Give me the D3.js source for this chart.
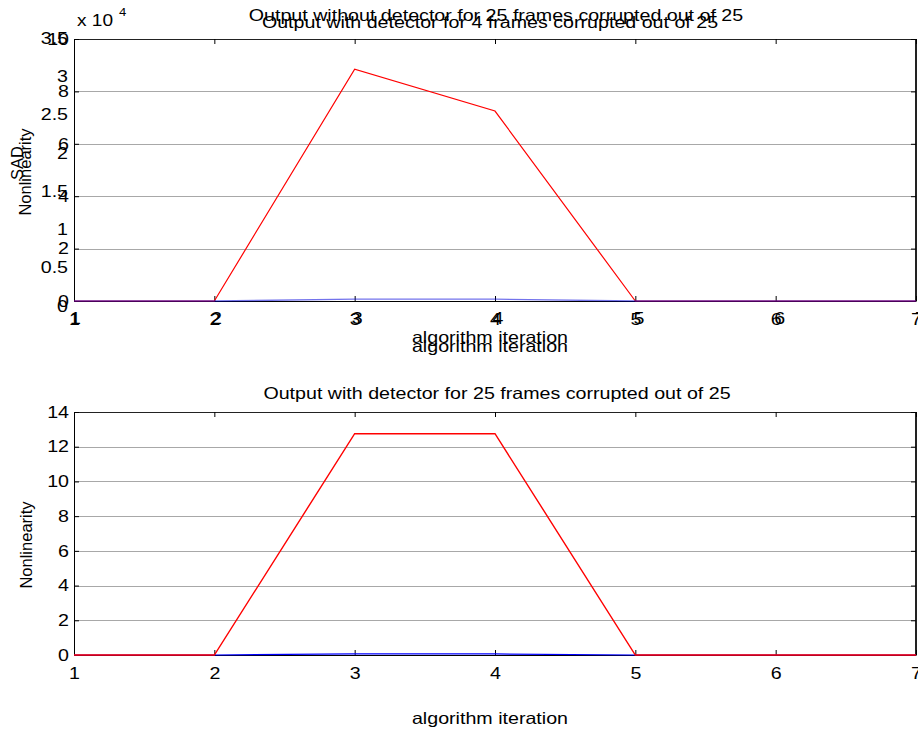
<!DOCTYPE html>
<html>
<head>
<meta charset="utf-8">
<script src="https://cdn.jsdelivr.net/npm/d3@7"></script>
<style>
  html, body { margin: 0; padding: 0; background: #fff; }
  svg { display: block; font-family: "Liberation Sans", Arial, sans-serif; }
</style>
</head>
<body>
<svg id="fig" width="918" height="733"></svg>
<script>
// Iterations of the algorithm (shared x values)
const iterations = [1, 2, 3, 4, 5, 6, 7];
const xTicks = [1, 2, 3, 4, 5, 6, 7];

// Upper panel: SAD axis (scaled by 10^4) and the nonlinearity axis laid over it
const sadTicks = [0, 0.5, 1, 1.5, 2, 2.5, 3, 3.5];
const nlTopTicks = [0, 2, 4, 6, 8, 10];
const topRed = [0, 0, 8.85, 7.25, 0, 0, 0];
const topBlue = [0, 0, 0.07, 0.07, 0, 0, 0];

// Lower panel: nonlinearity with detector, 25 of 25 frames corrupted
const nlBottomTicks = [0, 2, 4, 6, 8, 10, 12, 14];
const bottomRed = [0, 0, 12.75, 12.75, 0, 0, 0];
const bottomBlue = [0, 0, 0.06, 0.06, 0, 0, 0];

const svg = d3.select("#fig");
const FS = 16.5;      // font size
const SX = 1.19;      // horizontal stretch of the exported figure

// stretch horizontal text to the figure's wider glyphs
function stretch(sel) {
  sel.each(function () {
    const w = this.getComputedTextLength();
    if (w > 0) {
      d3.select(this).attr("textLength", w * SX).attr("lengthAdjust", "spacingAndGlyphs");
    }
  });
}

function label(x, y, txt, anchor, size) {
  const t = svg.append("text")
    .attr("x", x).attr("y", y)
    .attr("text-anchor", anchor || "middle")
    .attr("font-size", size || FS)
    .attr("fill", "#000")
    .text(txt);
  stretch(t);
  return t;
}

function ylabel(x, y, txt) {
  svg.append("text")
    .attr("transform", `translate(${x},${y}) rotate(-90)`)
    .attr("text-anchor", "middle")
    .attr("font-size", FS)
    .attr("fill", "#000")
    .text(txt);
}

const L = 74, R = 916;
const x = d3.scaleLinear().domain([1, 7]).range([L, R]);

// ---------- Upper panel, underlying SAD axes (only its labels show) ----------
const xSad = d3.scaleLinear().domain([1, 7]).range([L + 1, R + 4]);
const ySad = d3.scaleLinear().domain([0, 3.5]).range([306, 38]);

const sadY = svg.append("g").attr("transform", `translate(${L},0)`)
  .call(d3.axisLeft(ySad).tickValues(sadTicks).tickSize(0).tickPadding(6)
    .tickFormat(d3.format("")));
sadY.select(".domain").remove();
sadY.selectAll("text").attr("font-size", FS).attr("font-family", null).attr("fill", "#000");
stretch(sadY.selectAll("text"));

const sadX = svg.append("g").attr("transform", `translate(0,299)`)
  .call(d3.axisBottom(xSad).tickValues(xTicks).tickSize(0).tickPadding(13)
    .tickFormat(d3.format("d")));
sadX.select(".domain").remove();
sadX.selectAll("text").attr("font-size", FS).attr("font-family", null).attr("fill", "#000");
stretch(sadX.selectAll("text"));

label(496, 21, "Output without detector for 25 frames corrupted out of 25");
label(490, 343, "algorithm iteration");
ylabel(23, 163, "SAD");
// exponent marker of the SAD axis
label(77, 26, "x 10", "start", 16);
label(119, 16, "4", "start", 11);

// ---------- nonlinearity axes (drawn over the SAD axes in the upper panel) ----------
function panel(cfg) {
  const y = d3.scaleLinear().domain(cfg.domain).range([cfg.bottom, cfg.top]);
  const g = svg.append("g");

  g.append("rect").attr("x", L).attr("y", cfg.top)
    .attr("width", R - L).attr("height", cfg.bottom - cfg.top).attr("fill", "#fff");

  // horizontal grid
  g.append("g").selectAll("line")
    .data(cfg.ticks.filter(d => d > cfg.domain[0] && d < cfg.domain[1]))
    .join("line")
    .attr("x1", L).attr("x2", R)
    .attr("y1", d => Math.round(y(d)) + 0.5).attr("y2", d => Math.round(y(d)) + 0.5)
    .attr("stroke", "#a8a8a8").attr("stroke-width", 1);

  // frame
  g.append("line").attr("x1", L).attr("x2", R).attr("y1", cfg.top + 0.5).attr("y2", cfg.top + 0.5)
    .attr("stroke", "#222");
  g.append("line").attr("x1", R).attr("x2", R).attr("y1", cfg.top).attr("y2", cfg.bottom)
    .attr("stroke", "#222").attr("stroke-width", 2);

  // inward ticks on top and right
  g.append("g").attr("transform", `translate(0,${cfg.top})`)
    .call(d3.axisTop(x).tickValues(xTicks).tickSizeInner(-5).tickSizeOuter(0).tickFormat(""))
    .call(s => s.select(".domain").remove());
  g.append("g").attr("transform", `translate(${R},0)`)
    .call(d3.axisRight(y).tickValues(cfg.ticks).tickSizeInner(-5).tickSizeOuter(0).tickFormat(""))
    .call(s => s.select(".domain").remove());

  // bottom and left axes
  const ax = g.append("g").attr("transform", `translate(0,${cfg.bottom})`)
    .call(d3.axisBottom(x).tickValues(xTicks).tickSizeInner(-5).tickSizeOuter(0).tickPadding(12)
      .tickFormat(d3.format("d")));
  ax.select(".domain").attr("stroke", "#000");
  ax.selectAll("text").attr("font-size", FS).attr("font-family", null).attr("fill", "#000");
  stretch(ax.selectAll("text"));

  const ay = g.append("g").attr("transform", `translate(${L},0)`)
    .call(d3.axisLeft(y).tickValues(cfg.ticks).tickSizeInner(-5).tickSizeOuter(0).tickPadding(5)
      .tickFormat(d3.format("d")));
  ay.select(".domain").attr("stroke", "#000");
  ay.selectAll("text").attr("font-size", FS).attr("font-family", null).attr("fill", "#000");
  stretch(ay.selectAll("text"));

  const line = d3.line().x((d, i) => x(iterations[i])).y(d => y(d));
  [cfg.first, cfg.second].forEach(s => {
    g.append("path").datum(s.values).attr("d", line).attr("fill", "none")
      .attr("stroke", s.color).attr("stroke-width", s.width)
      .attr("stroke-opacity", s.opacity);
  });
}

panel({
  domain: [0, 10], ticks: nlTopTicks, top: 39, bottom: 301,
  first: { values: topRed, color: "#ff0000", width: 1.2, opacity: 1 },
  second: { values: topBlue, color: "#0000dd", width: 1.4, opacity: 0.55 }
});
label(490, 28, "Output with detector for 4 frames corrupted out of 25");
label(490, 352, "algorithm iteration");
ylabel(31, 172, "Nonlinearity");

// ---------- Lower panel ----------
panel({
  domain: [0, 14], ticks: nlBottomTicks, top: 412, bottom: 655,
  first: { values: bottomBlue, color: "#0000ff", width: 1.2, opacity: 1 },
  second: { values: bottomRed, color: "#ff0000", width: 1.4, opacity: 1 }
});
label(497, 399, "Output with detector for 25 frames corrupted out of 25");
label(490, 724, "algorithm iteration");
ylabel(32, 545, "Nonlinearity");
</script>
</body>
</html>
